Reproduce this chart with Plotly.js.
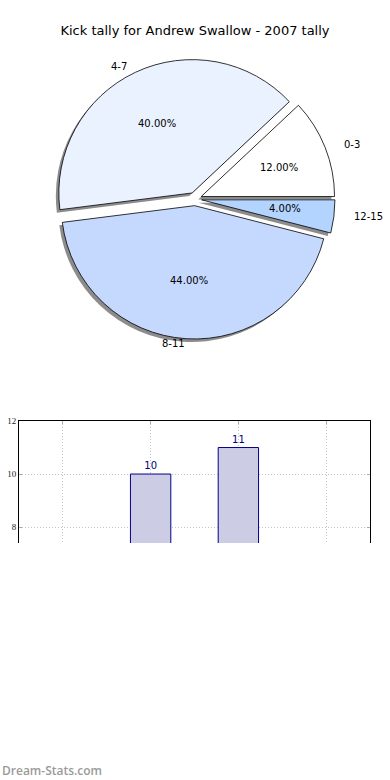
<!DOCTYPE html>
<html>
<head>
<meta charset="utf-8">
<script src="https://cdn.plot.ly/plotly-3.0.1.min.js"></script>
<style>
  html, body { margin: 0; padding: 0; background: #fff; }
  #chart { width: 390px; height: 780px; }
</style>
</head>
<body>
<div id="chart"></div>
<script>
// ---- data ----
const categories = ['0-3', '4-7', '8-11', '12-15'];
const kicks = [3, 10, 11, 1];
const chartTitle = 'Kick tally for Andrew Swallow - 2007 tally';
const yTicks = [8, 10, 12];

// ---- styles / layout constants ----
const sliceColors = ['#ffffff', '#eaf1ff', '#c5d9ff', '#b3d4ff'];
const shadowColor = '#8c8c8c';
const pullAmt = 0.05;
const W = 390, H = 780;
const cx = 195, cy = 199, half = 140;        // pie box in pixels
const tcx = 195, tcy = 198;                   // text centre
const textRx = 139, textRy = 126, pullPx = 7; // text placement radii
const pctDist = 0.6, labelDist = 1.1;

// Plotly counterclockwise pies end the first slice at "rotation";
// shift so the first slice starts at 3 o'clock like the reference.
const total = kicks.reduce((a, b) => a + b, 0);
const startRot = 90 - 360 * kicks[0] / total;

function dom(dx, dy) {
  return {
    x: [(cx - half + dx) / W, (cx + half + dx) / W],
    y: [1 - (cy + half + dy) / H, 1 - (cy - half + dy) / H]
  };
}
const pulls = categories.map(() => pullAmt);

const shadow = {
  type: 'pie', labels: categories, values: kicks, sort: false,
  direction: 'counterclockwise', rotation: startRot, pull: pulls,
  domain: dom(-3, 3),
  marker: { colors: categories.map(() => shadowColor), line: { width: 0 } },
  textinfo: 'none', hoverinfo: 'skip', showlegend: false
};

const main = {
  type: 'pie', labels: categories, values: kicks, sort: false,
  direction: 'counterclockwise', rotation: startRot, pull: pulls,
  domain: dom(0, 0),
  marker: { colors: sliceColors, line: { color: '#000', width: 0.8 } },
  textinfo: 'none',
  hoverinfo: 'label+value+percent', showlegend: false
};

// slice texts (percent inside, label outside), placed from the data's angles
const pieText = [];
let acc = 0;
kicks.forEach((v, i) => {
  const frac = v / total;
  const mid = (acc + frac / 2) * 2 * Math.PI;
  acc += frac;
  const c = Math.cos(mid), s = Math.sin(mid);
  const px = tcx + c * (pullPx + pctDist * textRx);
  const py = tcy - s * (pullPx + pctDist * textRy);
  pieText.push({
    text: (frac * 100).toFixed(2) + '%', xref: 'paper', yref: 'paper',
    x: px / W, y: 1 - py / H, xanchor: 'center', yanchor: 'middle',
    borderpad: 0, borderwidth: 0,
    showarrow: false, font: { family: 'DejaVu Sans', size: 10, color: '#000' }
  });
  const lx = tcx + c * (pullPx + labelDist * textRx);
  const ly = tcy - s * (pullPx + labelDist * textRy);
  pieText.push({
    text: categories[i], xref: 'paper', yref: 'paper',
    x: lx / W, y: 1 - ly / H, xanchor: c > 0 ? 'left' : 'right', yanchor: 'middle',
    borderpad: 0, borderwidth: 0,
    showarrow: false, font: { family: 'DejaVu Sans', size: 10, color: '#000' }
  });
});

const bars = {
  type: 'bar', x: categories, y: kicks, width: 0.46,
  marker: { color: '#ccccE5', line: { color: '#00008b', width: 1 } },
  text: kicks.map(String), textposition: 'outside', cliponaxis: true,
  textfont: { family: 'DejaVu Sans', size: 10, color: '#000080' },
  xaxis: 'x', yaxis: 'y', showlegend: false, hoverinfo: 'x+y'
};

const layout = {
  width: W, height: H,
  margin: { l: 0, r: 0, t: 0, b: 0 },
  paper_bgcolor: '#fff', plot_bgcolor: '#fff',
  showlegend: false,
  title: {
    text: chartTitle,
    font: { family: 'DejaVu Sans', size: 13, color: '#000' },
    x: 0.5, xanchor: 'center', y: 1 - 30 / H, yanchor: 'middle'
  },
  xaxis: {
    domain: [19 / W, 370 / W], range: [-0.5, 3.5], type: 'category',
    side: 'top', showline: true, linecolor: '#000', linewidth: 1, mirror: false,
    showticklabels: false, ticks: 'inside', ticklen: 3, tickcolor: '#aaa',
    showgrid: true, gridcolor: '#c4c4c4', griddash: '1px,2px', gridwidth: 1,
    zeroline: false, fixedrange: true
  },
  yaxis: {
    domain: [1 - 543 / H, 1 - 421 / H], range: [7.4, 12],
    tickvals: yTicks, ticktext: yTicks.map(String),
    showline: true, linecolor: '#000', linewidth: 1, mirror: 'ticks',
    ticks: 'inside', ticklen: 3, tickcolor: '#aaa',
    tickfont: { family: 'Liberation Serif', size: 9, color: '#222' },
    showgrid: true, gridcolor: '#c4c4c4', griddash: '1px,2px', gridwidth: 1,
    zeroline: false, fixedrange: true
  },
  annotations: pieText.concat([{
    text: 'Dream-Stats.com', xref: 'paper', yref: 'paper',
    x: 0, xanchor: 'left', y: 1 - 770 / H, yanchor: 'middle',
    showarrow: false,
    font: { family: 'Open Sans', size: 12, color: '#9a9a9a', weight: 600 }
  }])
};

Plotly.newPlot('chart', [shadow, main, bars], layout, { displayModeBar: false, staticPlot: true });
</script>
</body>
</html>
